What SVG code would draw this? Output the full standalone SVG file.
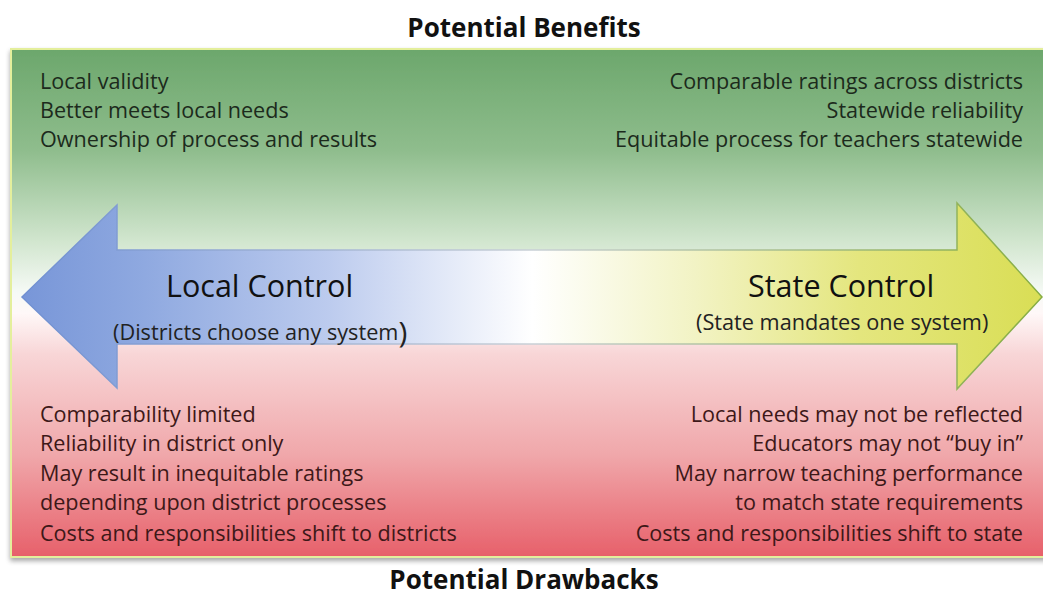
<svg xmlns="http://www.w3.org/2000/svg" width="1043" height="597" viewBox="0 0 1043 597">
<defs>
<linearGradient id="bg" x1="0" y1="49" x2="0" y2="557" gradientUnits="userSpaceOnUse">
<stop offset="0" stop-color="#6ca76c"/>
<stop offset="0.2" stop-color="#8fbd8d"/>
<stop offset="0.38" stop-color="#d2e6cf"/>
<stop offset="0.48" stop-color="#f6faf6"/>
<stop offset="0.52" stop-color="#fff8f8"/>
<stop offset="0.6" stop-color="#f8d6d7"/>
<stop offset="0.8" stop-color="#f0a7aa"/>
<stop offset="1" stop-color="#e7606a"/>
</linearGradient>
<linearGradient id="arrowFill" x1="22" y1="0" x2="1043" y2="0" gradientUnits="userSpaceOnUse">
<stop offset="0" stop-color="#7896d8"/>
<stop offset="0.12" stop-color="#8fa9e0"/>
<stop offset="0.3" stop-color="#bccbee"/>
<stop offset="0.5" stop-color="#ffffff"/>
<stop offset="0.66" stop-color="#f2f3c4"/>
<stop offset="0.82" stop-color="#e4e67e"/>
<stop offset="1" stop-color="#d9de55"/>
</linearGradient>
<linearGradient id="arrowStroke" x1="22" y1="0" x2="1043" y2="0" gradientUnits="userSpaceOnUse">
<stop offset="0" stop-color="#7090d2"/>
<stop offset="0.5" stop-color="#c9d0d6"/>
<stop offset="1" stop-color="#86ad42"/>
</linearGradient>
<filter id="shadow" x="-5%" y="-5%" width="110%" height="115%">
<feGaussianBlur in="SourceAlpha" stdDeviation="2.5"/>
<feOffset dx="0" dy="3" result="b"/>
<feComponentTransfer><feFuncA type="linear" slope="0.35"/></feComponentTransfer>
<feMerge><feMergeNode/><feMergeNode in="SourceGraphic"/></feMerge>
</filter>
<style>
.title{font-family:"Open Sans","Liberation Sans",sans-serif;font-weight:bold;font-size:26px;fill:#111;text-anchor:middle}
.ben{font-family:"Open Sans","Liberation Sans",sans-serif;font-size:21.6px;fill:#1c2a1c}
.drw{font-family:"Open Sans","Liberation Sans",sans-serif;font-size:21.6px;fill:#3d1818}
.big{font-family:"Open Sans","Liberation Sans",sans-serif;font-size:30.5px;fill:#111}
.sub{font-family:"Open Sans","Liberation Sans",sans-serif;font-size:21.7px;fill:#222}
.r{text-anchor:end}
</style>
</defs>
<rect width="1043" height="597" fill="#ffffff"/>
<g id="background">
<rect x="11" y="49" width="1040" height="508" fill="url(#bg)" stroke="#e4ef9c" stroke-width="2" filter="url(#shadow)"/>
</g>
<g id="title-benefits"><text class="title" x="524" y="37">Potential Benefits</text></g>
<g id="title-drawbacks"><text class="title" x="524" y="589">Potential Drawbacks</text></g>
<g id="control-arrow">
<path d="M22,297 L117,205 L117,250 L957,250 L957,203 L1042,297 L957,389 L957,344 L117,344 L117,388 Z" fill="url(#arrowFill)" stroke="url(#arrowStroke)" stroke-width="1.5" stroke-linejoin="miter"/>
</g>
<g id="local-control">
<text class="big" x="166" y="297">Local Control</text>
<text class="sub" x="113" y="340">(Districts choose any system<tspan font-size="30px" dy="3">)</tspan></text>
</g>
<g id="state-control">
<text class="big" x="748" y="297">State Control</text>
<text class="sub" x="696" y="330">(State mandates one system)</text>
</g>
<g id="local-benefits">
<text class="ben" x="40" y="89">Local validity</text>
<text class="ben" x="40" y="118">Better meets local needs</text>
<text class="ben" x="40" y="147">Ownership of process and results</text>
</g>
<g id="state-benefits">
<text class="ben r" x="1023" y="89">Comparable ratings across districts</text>
<text class="ben r" x="1023" y="118">Statewide reliability</text>
<text class="ben r" x="1023" y="147">Equitable process for teachers statewide</text>
</g>
<g id="local-drawbacks">
<text class="drw" x="40" y="422">Comparability limited</text>
<text class="drw" x="40" y="451">Reliability in district only</text>
<text class="drw" x="40" y="481">May result in inequitable ratings</text>
<text class="drw" x="40" y="510">depending upon district processes</text>
<text class="drw" x="40" y="541">Costs and responsibilities shift to districts</text>
</g>
<g id="state-drawbacks">
<text class="drw r" x="1023" y="422">Local needs may not be reflected</text>
<text class="drw r" x="1023" y="451">Educators may not “buy in”</text>
<text class="drw r" x="1023" y="481">May narrow teaching performance</text>
<text class="drw r" x="1023" y="510">to match state requirements</text>
<text class="drw r" x="1023" y="541">Costs and responsibilities shift to state</text>
</g>
</svg>
